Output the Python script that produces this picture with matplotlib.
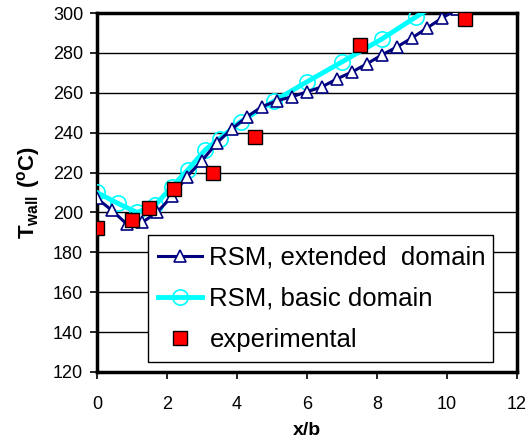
import numpy as np
import matplotlib
matplotlib.use('Agg')
import matplotlib.pyplot as plt

plt.rcParams['font.family'] = ['Liberation Sans', 'DejaVu Sans']
plt.rcParams['mathtext.fontset'] = 'custom'
plt.rcParams['mathtext.rm'] = 'Liberation Sans'
plt.rcParams['mathtext.bf'] = 'Liberation Sans:bold'

# RSM, extended domain
x_ext = [0.0, 0.43, 0.86, 1.29, 1.71, 2.14, 2.57, 3.0, 3.43, 3.86, 4.29, 4.71,
         5.14, 5.57, 6.0, 6.43, 6.86, 7.29, 7.71, 8.14, 8.57, 9.0, 9.43, 9.86, 10.29]
t_ext = [207, 201, 194, 195, 200, 208, 218, 226, 235, 242, 248, 253,
         256, 258, 260.5, 263, 267, 270.5, 274.5, 279, 283, 287.5, 292.5, 297.5, 302]

# RSM, basic domain
x_bas = [0.0, 0.6, 1.15, 1.65, 2.15, 2.6, 3.1, 3.5, 4.1, 5.07, 6.0, 7.0, 8.14, 9.11, 10.1]
t_bas = [210, 204.5, 200, 203.5, 213, 221.5, 231.5, 237, 245.5, 256, 265.5, 275.5, 287, 298, 309]

# measurements
x_exp = [0.0, 1.0, 1.5, 2.2, 3.3, 4.5, 7.5, 10.5]
t_exp = [192, 196, 202, 212, 220, 238, 284, 297]

fig = plt.figure(figsize=(5.28, 4.41), dpi=100)
ax = fig.add_axes([0.1837, 0.1565, 0.7955, 0.814])

ax.plot(x_bas, t_bas, color='#00FFFF', lw=3.5, marker='o', ms=11,
        mfc='none', mec='#00FFFF', mew=1.2, label='RSM, basic domain', zorder=3)
ax.plot(x_ext, t_ext, color='#000080', lw=2.2, marker='^', ms=9,
        mfc='white', mec='#000080', mew=1.2, label='RSM, extended  domain', zorder=4)
ax.plot(x_exp, t_exp, ls='none', marker='s', ms=10, mfc='#FF0000',
        mec='black', mew=1.0, label='experimental', zorder=5)

ax.set_xlim(0, 12)
ax.set_ylim(120, 300)
ax.set_xticks(np.arange(0, 13, 2))
ax.set_yticks(np.arange(120, 301, 20))
ax.yaxis.grid(True, color='black', lw=1.0)
ax.set_axisbelow(True)

for s in ax.spines.values():
    s.set_linewidth(2.5)
    s.set_color('black')

ax.tick_params(axis='both', direction='out', length=5, width=1.2,
               labelsize=13, colors='black')
ax.tick_params(axis='x', pad=12)
ax.tick_params(axis='y', pad=5)

ax.set_xlabel('x/b', fontsize=14, fontweight='bold', labelpad=7)
ax.set_ylabel(r'$\mathbf{T_{wall}\ (^{o}C)}$', fontsize=16, labelpad=8)

h, l = ax.get_legend_handles_labels()
order = [1, 0, 2]
leg = ax.legend([h[i] for i in order], [l[i] for i in order],
                loc='lower left', bbox_to_anchor=(0.121, 0.028, 0.822, 0.36),
                mode='expand', fontsize=18.5, frameon=True, fancybox=False,
                edgecolor='black', framealpha=1, handlelength=1.7,
                handletextpad=0.3, borderpad=0.4, labelspacing=0.66,
                borderaxespad=0)
leg.get_frame().set_linewidth(1.0)
leg.set_zorder(10)

fig.savefig('out.png', dpi=100)
